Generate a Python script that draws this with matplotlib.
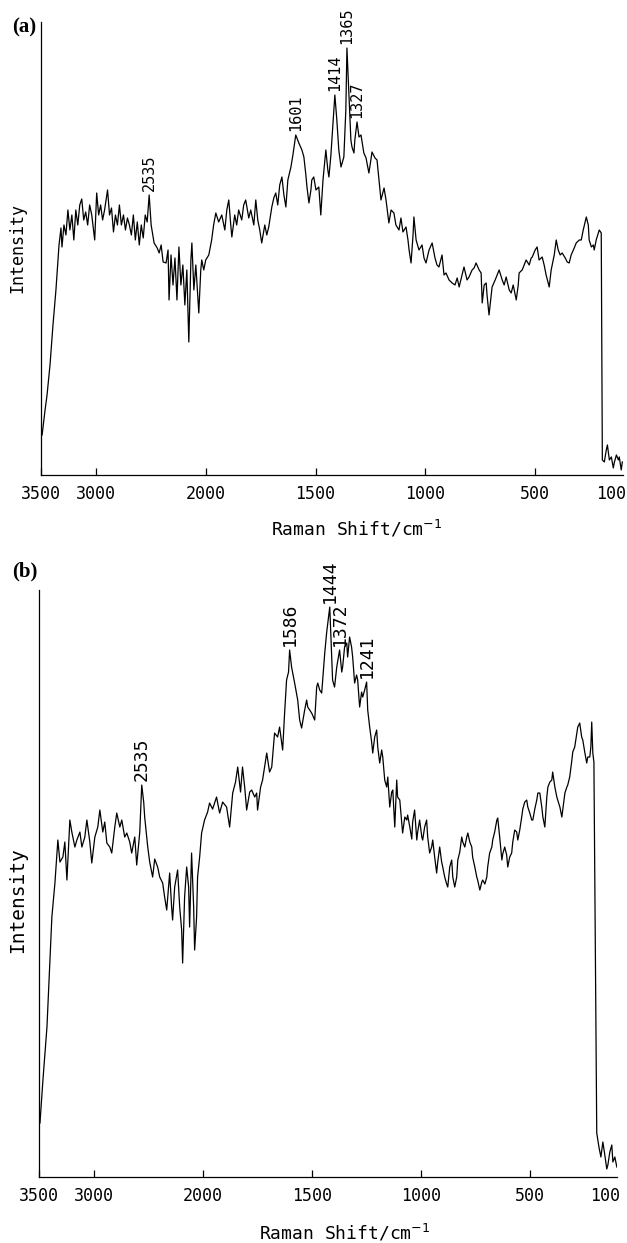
import numpy as np
import matplotlib
matplotlib.use('Agg')
import matplotlib.pyplot as plt

# Raman spectra: (wavenumber / cm-1, intensity a.u.)
spec_a = [(3490,40),(3463,65),(3445,80),(3418,110),(3391,150),(3364,185),(3336,230),(3318,247),(3309,228),(3291,250),
          (3273,240),(3255,265),(3237,245),(3219,260),(3201,235),(3183,265),(3165,250),(3147,270),(3129,276),(3111,255),
          (3093,263),(3075,250),(3057,270),(3038,260),(3011,235),(2993,282),(2975,260),(2957,270),(2939,255),(2921,265),
          (2894,285),(2876,260),(2858,267),(2840,243),(2822,260),(2804,250),(2786,270),(2768,250),(2749,260),(2731,245),
          (2713,257),(2695,250),(2677,240),(2659,260),(2641,235),(2623,253),(2605,230),(2587,250),(2569,237),(2551,260),
          (2533,253),(2515,280),(2497,250),(2470,232),(2442,227),(2424,222),(2406,230),(2388,213),(2361,212),(2343,225),
          (2334,175),(2316,220),(2298,190),(2280,217),(2262,175),(2244,228),(2226,190),(2208,210),(2190,170),(2172,205),
          (2154,133),(2135,215),(2126,232),(2108,185),(2090,210),(2063,162),(2045,205),(2036,215),(2018,205),(2000,215),
          (1986,220),(1973,235),(1964,250),(1954,262),(1941,253),(1927,260),(1913,245),(1904,265),(1895,275),(1886,250),
          (1881,238),(1868,260),(1859,250),(1850,265),(1836,255),(1827,270),(1818,275),(1804,257),(1795,265),(1781,250),
          (1772,275),(1763,255),(1754,245),(1745,232),(1731,250),(1722,240),(1713,248),(1699,268),(1690,277),(1681,282),
          (1672,270),(1663,290),(1653,298),(1644,280),(1635,268),(1626,295),(1612,308),(1603,320),(1590,340),(1576,332),
          (1562,325),(1553,318),(1544,300),(1539,288),(1530,272),(1521,285),(1517,295),(1508,298),(1498,285),(1485,288),
          (1476,260),(1466,295),(1453,325),(1444,305),(1439,298),(1430,320),(1421,350),(1412,380),(1403,355),(1394,325),
          (1384,308),(1375,315),(1371,318),(1362,365),(1357,427),(1348,380),(1339,335),(1334,328),(1325,322),(1321,335),
          (1311,353),(1302,338),(1293,340),(1280,322),(1270,317),(1257,302),(1248,315),(1243,323),(1229,317),(1220,315),
          (1211,295),(1202,275),(1193,283),(1188,287),(1179,275),(1166,252),(1156,265),(1143,262),(1134,250),(1120,245),
          (1111,257),(1102,243),(1088,248),(1079,235),(1074,225),(1065,212),(1056,240),(1052,258),(1042,235),(1029,225),
          (1015,230),(1006,217),(997,212),(983,225),(969,232),(956,217),(947,210),(938,208),(924,220),(915,200),
          (906,202),(892,195),(878,192),(865,190),(855,197),(846,188),(833,200),(824,208),(810,195),(801,198),
          (787,205),(778,207),(769,212),(755,205),(746,202),(741,172),(732,190),(723,192),(719,180),(710,160),
          (700,180),(696,188),(682,195),(673,200),(664,205),(650,195),(641,190),(632,198),(618,185),(609,182),
          (600,190),(586,175),(577,190),(573,202),(559,205),(550,210),(541,215),(527,210),(518,217),(513,218),
          (500,225),(491,228),(482,215),(468,218),(459,210),(450,200),(436,188),(427,205),(413,220),(404,235),
          (395,225),(386,220),(377,222),(363,217),(354,213),(345,212),(336,220),(322,227),(313,232),(299,235),
          (290,235),(281,245),(267,258),(258,250),(254,235),(244,228),(235,230),(231,225),(222,235),(208,245),
          (199,242),(194,15),(185,13),(176,25),(171,30),(162,15),(153,18),(144,7),(140,12),(130,20),
          (121,15),(117,18),(108,5),(103,13)]

spec_b = [(3491,54),(3464,97),(3427,150),(3382,260),(3354,294),(3327,337),(3308,315),(3281,320),(3263,335),(3244,297),
          (3217,357),(3199,345),(3171,330),(3153,337),(3125,345),(3107,330),(3080,340),(3061,357),(3034,335),(3016,314),
          (2988,340),(2961,350),(2942,367),(2915,345),(2897,355),(2878,334),(2851,330),(2833,324),(2805,350),(2787,364),
          (2759,350),(2741,357),(2714,340),(2695,344),(2668,335),(2650,324),(2622,340),(2604,312),(2576,345),(2558,392),
          (2540,375),(2531,360),(2503,330),(2485,315),(2458,300),(2439,318),(2412,310),(2393,300),(2366,294),(2348,280),
          (2329,267),(2302,304),(2284,270),(2275,257),(2256,290),(2229,307),(2210,270),(2192,247),(2183,214),(2165,280),
          (2146,310),(2128,290),(2119,250),(2101,324),(2082,270),(2073,227),(2055,260),(2046,300),(2027,320),(2009,344),
          (1991,357),(1977,365),(1968,374),(1954,368),(1936,380),(1922,364),(1908,375),(1890,370),(1876,350),(1862,384),
          (1849,395),(1839,410),(1826,385),(1817,410),(1807,390),(1798,367),(1784,385),(1775,387),(1761,380),(1752,384),
          (1748,367),(1734,390),(1725,397),(1716,410),(1706,424),(1693,405),(1683,410),(1670,444),(1656,440),(1647,450),
          (1633,427),(1624,464),(1615,497),(1606,505),(1601,527),(1592,510),(1578,494),(1564,477),(1555,457),(1546,449),
          (1532,467),(1523,477),(1518,470),(1509,467),(1500,464),(1486,457),(1477,490),(1472,494),(1463,487),(1454,484),
          (1440,524),(1431,545),(1417,570),(1404,497),(1395,490),(1385,510),(1372,527),(1362,505),(1358,510),(1349,530),
          (1339,534),(1335,520),(1326,540),(1317,530),(1312,520),(1303,494),(1294,502),(1289,497),(1280,470),(1271,485),
          (1266,480),(1257,487),(1248,495),(1243,467),(1234,450),(1225,435),(1220,424),(1211,440),(1202,447),(1197,430),
          (1188,414),(1179,427),(1174,420),(1165,397),(1156,390),(1151,400),(1142,370),(1133,385),(1128,387),(1119,350),
          (1110,397),(1106,380),(1096,377),(1087,355),(1083,344),(1073,360),(1064,357),(1060,362),(1050,350),(1041,338),
          (1037,355),(1028,367),(1018,337),(1014,345),(1005,357),(995,340),(991,337),(982,350),(973,357),(968,340),
          (959,324),(950,330),(945,337),(936,320),(927,304),(922,315),(913,330),(904,315),(899,310),(890,300),
          (881,293),(876,290),(867,310),(858,317),(853,300),(844,290),(835,300),(830,317),(821,325),(812,340),
          (807,335),(798,330),(789,340),(784,344),(775,335),(766,330),(762,320),(752,310),(743,300),(739,297),
          (729,287),(720,295),(716,297),(706,293),(697,300),(693,310),(684,324),(674,330),(670,337),(661,345),
          (651,357),(647,359),(638,340),(628,317),(624,323),(615,330),(606,322),(601,310),(592,320),(583,324),
          (578,335),(569,347),(560,345),(555,337),(546,347),(537,360),(532,368),(523,375),(514,377),(509,370),
          (500,364),(491,357),(486,357),(477,368),(468,377),(463,384),(454,384),(445,370),(440,360),(431,350),
          (422,380),(417,390),(408,395),(399,397),(395,405),(385,390),(376,380),(372,377),(362,370),(353,360),
          (349,367),(339,384),(330,390),(326,392),(317,400),(307,417),(303,425),(294,430),(284,444),(280,450),
          (271,454),(262,440),(257,437),(248,425),(239,414),(234,420),(225,420),(220,430),(216,455),(211,424),
          (206,415),(193,44),(183,30),(174,20),(165,35),(156,22),(147,8),(142,12),(133,25),(124,32),
          (119,15),(110,20),(101,10)]

# peak labels and where they sit on the traces
peaks_a = ['2535', '1601', '1414', '1365', '1327']
peak_pos_a = [(2515, 280), (1590, 340), (1412, 380), (1357, 427), (1311, 353)]
peaks_b = ['2535', '1586', '1444', '1372', '1241']
peak_pos_b = [(2558, 392), (1601, 527), (1417, 570), (1372, 527), (1248, 495)]

xticks = [3500, 3000, 2000, 1500, 1000, 500]


# x axis is compressed by 2 above 2000 cm-1
def fwd(w):
    w = np.asarray(w, dtype=float)
    return np.where(w > 2000, 2000 + (w - 2000) * 0.5, w)


def inv(s):
    s = np.asarray(s, dtype=float)
    return np.where(s > 2000, 2000 + (s - 2000) * 2.0, s)


plt.rcParams['font.family'] = ['DejaVu Sans Mono', 'DejaVu Sans']

fig = plt.figure(figsize=(6.27, 12.43), dpi=100)
ax_a = fig.add_axes([0.0654, 0.6179, 0.9282, 0.3644])
ax_b = fig.add_axes([0.0622, 0.0531, 0.9219, 0.4722])


def draw(ax, spec, labels, pos, ymax, lab_size, ylab_size, xlab_coords, ylab_coords):
    w, i = zip(*spec)
    ax.plot(w, i, color='black', lw=0.9)
    ax.set_xscale('function', functions=(fwd, inv))
    ax.set_xlim(3500, 100)
    ax.set_ylim(0, ymax)
    for s in ['top', 'right']:
        ax.spines[s].set_visible(False)
    for s in ['left', 'bottom']:
        ax.spines[s].set_linewidth(0.9)
    ax.set_yticks([])
    ax.set_xticks(xticks)
    ax.set_xticklabels([str(t) for t in xticks])
    ax.tick_params(axis='x', direction='in', length=5, width=0.9, pad=7, labelsize=12)
    ax.minorticks_off()
    ax.annotate('100', xy=(100, 0), xycoords=('data', 'axes fraction'), xytext=(2, -7),
                textcoords='offset points', ha='right', va='top', fontsize=12)
    for lbl, (pw, pi) in zip(labels, pos):
        ax.annotate(lbl, xy=(pw, pi), xytext=(0, 3), textcoords='offset points',
                    rotation=90, ha='center', va='bottom', fontsize=lab_size)
    ax.set_xlabel('Raman Shift/cm$^{-1}$', fontsize=13)
    ax.xaxis.set_label_coords(*xlab_coords)
    ax.set_ylabel('Intensity', fontsize=ylab_size)
    ax.yaxis.set_label_coords(*ylab_coords)


draw(ax_a, spec_a, peaks_a, peak_pos_a, 453, 11, 12, (0.543, -0.095), (-0.025, 0.5))
draw(ax_b, spec_b, peaks_b, peak_pos_b, 587, 13, 14, (0.528, -0.077), (-0.021, 0.472))

fig.text(0.019, 0.9863, '(a)', family='Liberation Serif', weight='bold', fontsize=15, va='top', ha='left')
fig.text(0.019, 0.5479, '(b)', family='Liberation Serif', weight='bold', fontsize=15, va='top', ha='left')

fig.savefig('out.png', dpi=100)
